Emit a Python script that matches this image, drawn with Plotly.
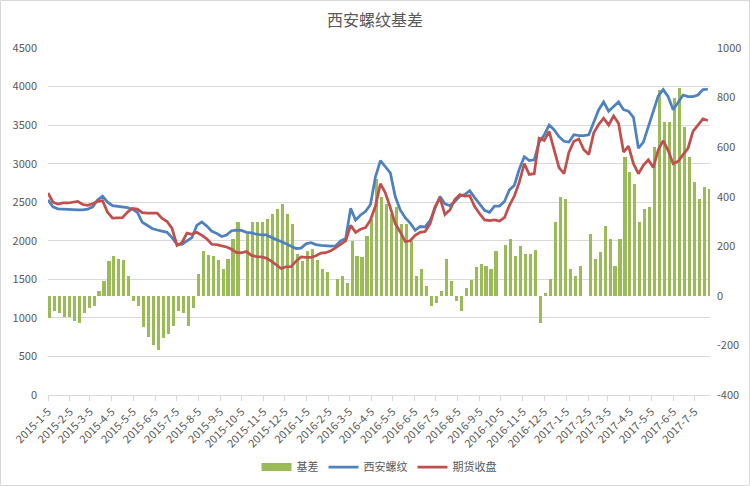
import pandas as pd
import plotly.graph_objects as go

# ---------------- data (weekly readings, Monday of each week) ----------------
week_start = "2015-01-05"
n_weeks = 134
dates = pd.date_range(week_start, periods=n_weeks, freq="7D")

# 西安螺纹 (spot)
spot = [
    2530, 2440, 2415, 2410, 2405, 2400, 2400, 2400, 2410, 2440,
    2530, 2580, 2500, 2455, 2445, 2440, 2430, 2410, 2370, 2240,
    2195, 2160, 2140, 2120, 2110, 2040, 1955, 1955, 1995, 2040,
    2200, 2245, 2190, 2125, 2095, 2055, 2075, 2130, 2138, 2135,
    2110, 2103, 2085, 2075, 2075, 2040, 2015, 1990, 1960, 1940,
    1900, 1905, 1960, 1975, 1950, 1940, 1935, 1930, 1935, 2000,
    2030, 2420, 2270, 2335, 2380, 2470, 2830, 3040, 2960, 2880,
    2570, 2400, 2300, 2230, 2135, 2185, 2180, 2260, 2420, 2575,
    2480, 2455, 2510, 2578, 2600, 2650, 2560, 2480, 2395, 2370,
    2450, 2450, 2510, 2660, 2720, 2930, 3090, 3040, 3050, 3280,
    3370, 3500, 3440, 3350, 3290, 3280, 3375, 3365, 3365, 3375,
    3550, 3700, 3800, 3680, 3740, 3800, 3700, 3680, 3600, 3200,
    3280, 3480, 3700, 3880, 3960, 3870, 3700, 3790, 3890, 3870,
    3870, 3890, 3960, 3965,
]

# 期货收盘 (futures close)
futures = [
    2620, 2500, 2475, 2490, 2490, 2505, 2510, 2470, 2460, 2480,
    2510, 2520, 2370, 2295, 2295, 2300, 2370, 2420, 2410, 2365,
    2360, 2360, 2360, 2290, 2250, 2160, 1940, 1975, 2100, 2085,
    2110, 2070, 2025, 1955, 1950, 1935, 1920, 1890, 1845, 1845,
    1860, 1810, 1795, 1790, 1775, 1736, 1690, 1640, 1663, 1665,
    1736, 1790, 1785, 1785, 1805, 1840, 1845, 1870, 1910, 1960,
    2000, 2200, 2110, 2150, 2170, 2270, 2450, 2740, 2620, 2430,
    2220, 2115, 1990, 2000, 2070, 2110, 2120, 2220, 2440, 2555,
    2340, 2400, 2535, 2600, 2578, 2585, 2445, 2350, 2270, 2260,
    2270, 2255, 2300, 2460, 2580, 2760, 3000, 2860, 2870, 3330,
    3300, 3420, 3200, 2950, 2870, 3150, 3290, 3320, 3180, 3120,
    3400, 3510, 3590, 3500, 3620, 3520, 3150, 3226, 3000, 2870,
    2980, 3050, 2950, 3180, 3300, 3170, 3000, 3030, 3118, 3200,
    3420, 3500, 3580, 3560,
]

# 基差 (basis)
basis = [
    -90, -60, -70, -85, -85, -100, -110, -70, -50, -40,
    20, 60, 140, 160, 150, 145, 80, -20, -40, -125,
    -165, -200, -220, -170, -155, -120, -60, -70, -120, -50,
    90, 180, 165, 160, 145, 110, 150, 230, 300, None,
    250, 300, 300, 300, 310, 330, 350, 370, 330, 290,
    170, 140, 180, 190, 145, 110, 95, None, 70, 80,
    50, 220, 160, 155, 240, 310, 470, 400, 370, 330,
    360, 290, 290, 220, 80, 110, 40, -40, -30, 20,
    150, 60, -20, -60, 30, 65, 115, 130, 120, 110,
    180, None, 205, 230, 160, 200, 170, 170, 185, -110,
    10, 70, 300, 400, 390, 110, 80, 120, None, 250,
    150, 175, 280, 230, 120, 230, 560, 500, 450, 300,
    350, 360, 600, 830, 700, 700, 800, 840, 680, 560,
    460, 390, 440, 430,
]

tick_labels = [
    "2015-1-5", "2015-2-5", "2015-3-5", "2015-4-5", "2015-5-5", "2015-6-5",
    "2015-7-5", "2015-8-5", "2015-9-5", "2015-10-5", "2015-11-5", "2015-12-5",
    "2016-1-5", "2016-2-5", "2016-3-5", "2016-4-5", "2016-5-5", "2016-6-5",
    "2016-7-5", "2016-8-5", "2016-9-5", "2016-10-5", "2016-11-5", "2016-12-5",
    "2017-1-5", "2017-2-5", "2017-3-5", "2017-4-5", "2017-5-5", "2017-6-5",
    "2017-7-5",
]
tick_vals = [pd.to_datetime(t) for t in tick_labels]

right_ticks = [-400, -200, 0, 200, 400, 600, 800, 1000]
right_labels = ["-400", "-200", "0", "200", "400", "600", "800", "1000"]

# ---------------- styles ----------------
GREEN = "#9BBB59"
BLUE = "#4F81BD"
RED = "#C0504D"
GRID = "#D9D9D9"
TXT = "#595959"
FONT = "Microsoft YaHei, Noto Sans CJK SC, sans-serif"
DAY = 86400000

fig = go.Figure()
fig.add_trace(go.Bar(
    x=dates, y=basis, name="基差", marker=dict(color=GREEN, line=dict(width=0)),
    width=4.4 * DAY, offset=-0.2 * DAY, yaxis="y", showlegend=False,
))
# legend swatch for the bar series (wide rectangle like the original)
fig.add_trace(go.Scatter(
    x=[None], y=[None], name="基差", mode="lines",
    line=dict(color=GREEN, width=8), yaxis="y", showlegend=True,
))
fig.add_trace(go.Scatter(
    x=dates, y=spot, name="西安螺纹", mode="lines",
    line=dict(color=BLUE, width=2.75), yaxis="y2",
))
fig.add_trace(go.Scatter(
    x=dates, y=futures, name="期货收盘", mode="lines",
    line=dict(color=RED, width=2.75), yaxis="y2",
))

L, R, T, B = 48, 40, 48, 91
W, H = 750 - L - R, 486 - T - B

fig.update_layout(
    template="none",
    width=750, height=486,
    margin=dict(l=L, r=R, t=T, b=B, pad=0, autoexpand=False),
    paper_bgcolor="white", plot_bgcolor="white",
    font=dict(family=FONT, size=11, color=TXT),
    title=dict(text="西安螺纹基差", x=0.5, xanchor="center", y=1 - 20.5 / 486,
               yanchor="middle", font=dict(family=FONT, size=16, color=TXT)),
    showlegend=True,
    legend=dict(orientation="h", x=0.5, xanchor="center",
                yref="container", y=1 - 467 / 486, yanchor="middle",
                font=dict(family=FONT, size=11, color=TXT),
                bgcolor="rgba(0,0,0,0)", traceorder="normal", itemwidth=30),
    bargap=0,
    xaxis=dict(
        type="date", range=["2015-01-05", "2017-07-27"],
        tickmode="array", tickvals=tick_vals, ticktext=tick_labels,
        tickangle=-45, ticks="outside", ticklen=5, tickcolor=GRID,
        showline=True, linecolor=GRID, linewidth=1,
        showgrid=False, zeroline=False, automargin=False,
        tickfont=dict(family=FONT, size=11, color=TXT),
    ),
    yaxis=dict(
        side="right", range=[-400, 1000],
        tickmode="array", tickvals=right_ticks, ticktext=right_labels,
        showgrid=False, zeroline=False, showline=False, ticks="",
        automargin=False, tickfont=dict(family=FONT, size=11, color=TXT),
        ticklabelstandoff=6,
    ),
    yaxis2=dict(
        overlaying="y", side="left", range=[0, 4500], dtick=500, tick0=0,
        showgrid=True, gridcolor=GRID, gridwidth=1, zeroline=False,
        showline=False, ticks="", automargin=False,
        tickfont=dict(family=FONT, size=11, color=TXT),
        ticklabelstandoff=10,
    ),
    shapes=[dict(
        type="rect", xref="paper", yref="paper",
        x0=(0.5 - L) / W, x1=(749.5 - L) / W,
        y0=(395 - 485.5) / H, y1=(395 - 0.5) / H,
        line=dict(color=GRID, width=1), fillcolor="rgba(0,0,0,0)", layer="below",
    )],
)

fig.write_html("out.html")
